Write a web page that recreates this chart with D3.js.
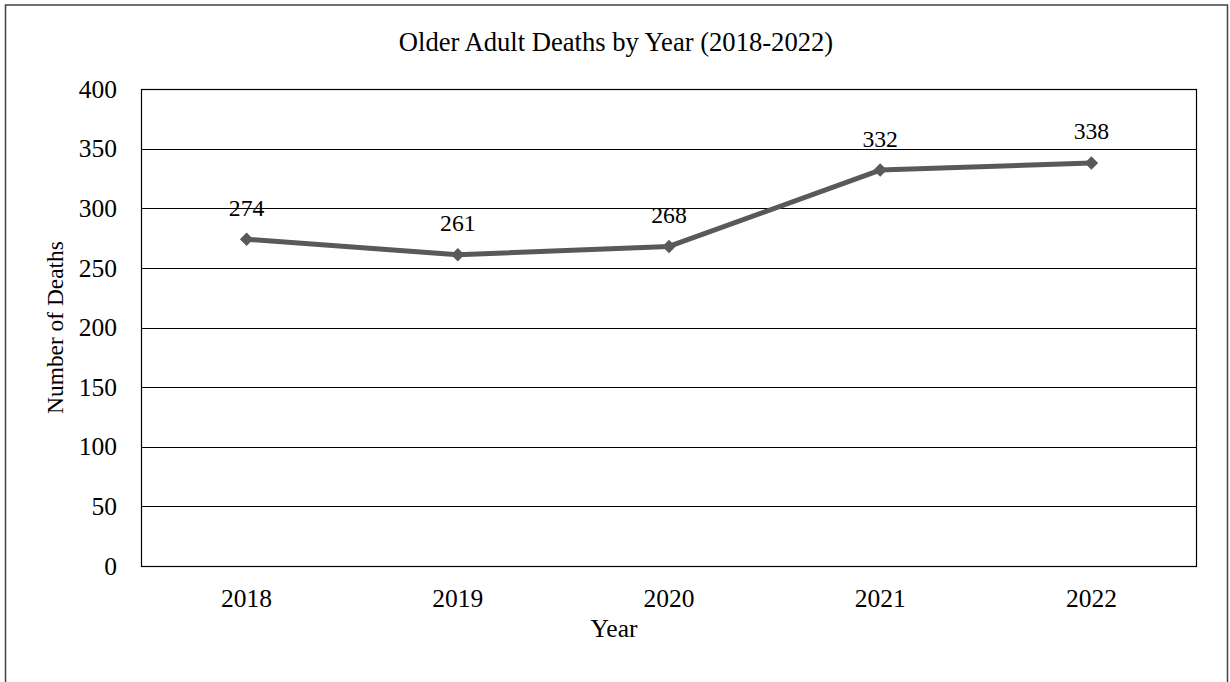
<!DOCTYPE html>
<html><head><meta charset="utf-8">
<script src="https://cdn.jsdelivr.net/npm/d3@7"></script>
<style>body{margin:0;background:#fff}svg{display:block}text{font-family:"Liberation Serif","Times New Roman",serif;fill:#000}</style>
</head><body>
<script>
const years = ["2018","2019","2020","2021","2022"];
const deaths = [274,261,268,332,338];
const yTicks = [0,50,100,150,200,250,300,350,400];
const title = "Older Adult Deaths by Year (2018-2022)";
const xTitle = "Year";
const yTitle = "Number of Deaths";

const W=1230,H=682;
const svg=d3.select("body").append("svg").attr("width",W).attr("height",H);
svg.append("rect").attr("x",5.5).attr("y",5).attr("width",1222).attr("height",690)
  .attr("fill","#fff").attr("stroke","#404040").attr("stroke-width",1.5);
const L=141,R=1197,T=89,B=566;
const x=d3.scaleBand().domain(years).range([L,R]);
const y=d3.scaleLinear().domain([0,400]).range([B,T]);

// gridlines
svg.append("g").selectAll("line").data(yTicks).join("line")
  .attr("x1",L).attr("x2",R).attr("y1",d=>Math.round(y(d))+0.5).attr("y2",d=>Math.round(y(d))+0.5)
  .attr("stroke","#000").attr("stroke-width",1);
svg.append("rect").attr("x",L+0.5).attr("y",T+0.5).attr("width",R-L-1).attr("height",B-T)
  .attr("fill","none").attr("stroke","#000").attr("stroke-width",1.2);

const yAxis=d3.axisLeft(y).tickValues(yTicks).tickSize(0).tickPadding(24);
const gy=svg.append("g").attr("transform",`translate(${L},0)`).call(yAxis);
gy.select(".domain").remove();
gy.attr("font-size",25.5).attr("font-family","Liberation Serif");
gy.selectAll("text").attr("fill","#000");

const xAxis=d3.axisBottom(x).tickSize(0).tickPadding(0);
const gx=svg.append("g").attr("transform",`translate(0,${B})`).call(xAxis);
gx.select(".domain").remove();
gx.attr("font-size",25.5).attr("font-family","Liberation Serif");
gx.selectAll("text").attr("fill","#000").attr("dy",null).attr("y",41);

const cx=d=>x(d)+x.bandwidth()/2;
const line=d3.line().x((d,i)=>cx(years[i])).y(d=>y(d));
svg.append("path").datum(deaths).attr("d",line).attr("fill","none")
  .attr("stroke","#595959").attr("stroke-width",5).attr("stroke-linejoin","round");
svg.append("g").selectAll("path").data(deaths).join("path")
  .attr("d",d3.symbol(d3.symbolDiamond2,115)())
  .attr("transform",(d,i)=>`translate(${cx(years[i])},${y(d)})`)
  .attr("fill","#595959");
svg.append("g").selectAll("text").data(deaths).join("text")
  .attr("x",(d,i)=>cx(years[i])).attr("y",d=>y(d)-23.5)
  .attr("text-anchor","middle").attr("font-size",23.7).text(d=>d);

svg.append("text").attr("x",616).attr("y",51).attr("text-anchor","middle").attr("font-size",26.6).text(title);
svg.append("text").attr("x",614).attr("y",637).attr("text-anchor","middle").attr("font-size",25.5).text(xTitle);
svg.append("text").attr("transform",`translate(63,${(T+B)/2}) rotate(-90)`).attr("text-anchor","middle").attr("font-size",23.4).text(yTitle);
</script>
</body></html>
